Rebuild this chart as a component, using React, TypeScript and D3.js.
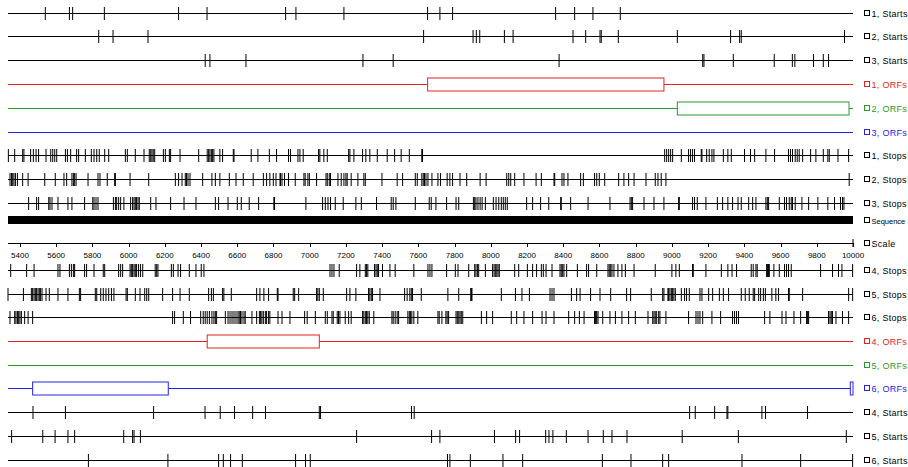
import React from "react";
import * as d3 from "d3";

// Sequence range shown
const SEQ_START = 5334;
const SEQ_END = 10000;

const scaleTicks = [5400, 5600, 5800, 6000, 6200, 6400, 6600, 6800, 7000, 7200, 7400, 7600, 7800, 8000, 8200, 8400, 8600, 8800, 9000, 9200, 9400, 9600, 9800, 10000];

const starts1 = [5540, 5673, 5691, 5866, 6276, 6433, 6867, 6924, 7189, 7651, 7719, 7789, 8358, 8463, 8564, 8715];
const starts2 = [5835, 5914, 6107, 7629, 7902, 7920, 7939, 8075, 8123, 8454, 8524, 8603, 8610, 8704, 9030, 9324, 9374, 9383, 9953];
const starts3 = [6423, 6449, 6648, 7294, 7461, 8377, 9170, 9177, 9339, 9565, 9665, 9679, 9782, 9836, 9865];
const starts4 = [5472, 5651, 6138, 6422, 6506, 6585, 6685, 6756, 7053, 7060, 7562, 7577, 9098, 9129, 9236, 9304, 9309, 9497, 9517, 9749];
const starts5 = [5354, 5526, 5594, 5665, 5702, 5973, 6022, 6030, 6065, 7259, 7673, 7719, 8020, 8137, 8159, 8303, 8321, 8343, 8417, 8537, 8621, 8669, 8752, 9057, 9367, 9963];
const starts6 = [5778, 6217, 6497, 6523, 6563, 6628, 6922, 6977, 7003, 7761, 7774, 7887, 8067, 8176, 8616, 8774, 8949, 8982, 9387, 9711, 9998];

const orfs1: [number, number][] = [[7651, 8956]];
const orfs2: [number, number][] = [[9030, 9978]];
const orfs3: [number, number][] = [];
const orfs4: [number, number][] = [[6434, 7053]];
const orfs5: [number, number][] = [];
const orfs6: [number, number][] = [[5470, 6219], [9985, 10000]];

const stops1 = [5336, 5371, 5415, 5422, 5459, 5474, 5489, 5503, 5544, 5570, 5581, 5592, 5603, 5651, 5662, 5680, 5713, 5724, 5761, 5794, 5809, 5824, 5838, 5868, 5890, 5982, 5993, 6037, 6085, 6114, 6122, 6129, 6136, 6144, 6192, 6203, 6225, 6232, 6284, 6387, 6434, 6442, 6449, 6457, 6464, 6471, 6504, 6519, 6578, 6582, 6677, 6714, 6777, 6817, 6883, 6894, 6935, 6946, 6964, 7049, 7056, 7078, 7097, 7215, 7222, 7244, 7292, 7310, 7332, 7373, 7428, 7469, 7505, 7550, 7619, 7623,
  8960, 8971, 8982, 8993, 9004, 9052, 9092, 9103, 9114, 9125, 9162, 9166, 9192, 9206, 9221, 9232, 9284, 9309, 9328, 9401, 9434, 9457, 9519, 9567, 9644, 9655, 9666, 9681, 9692, 9703, 9722, 9766, 9795, 9836, 9861, 9869, 9917, 9976];
const stops2 = [5345, 5353, 5360, 5367, 5375, 5386, 5415, 5445, 5537, 5595, 5643, 5658, 5687, 5695, 5702, 5710, 5776, 5831, 5842, 5882, 5923, 5927, 6008, 6111, 6258, 6276, 6295, 6313, 6320, 6328, 6339, 6409, 6460, 6479, 6504, 6556, 6593, 6633, 6688, 6744, 6762, 6780, 6799, 6814, 6836, 6839, 6847, 6861, 6883, 6920, 6968, 6975, 6990, 6998, 7038, 7090, 7097, 7108, 7115, 7156, 7174, 7189, 7200, 7207, 7229, 7266, 7299, 7307, 7399, 7483, 7513, 7583, 7594, 7619, 7627, 7634, 7642, 7653, 7675, 7708, 7722, 7759, 7774, 7789,
  7830, 7867, 7941, 7974, 8088, 8099, 8110, 8132, 8183, 8250, 8279, 8349, 8353, 8393, 8404, 8426, 8496, 8511, 8573, 8585, 8599, 8629, 8706, 8735, 8761, 8791, 8857, 8908, 8923, 8941, 8967, 9979];
const stops3 = [5448, 5492, 5503, 5559, 5566, 5577, 5610, 5665, 5687, 5757, 5802, 5809, 5820, 5831, 5916, 5927, 5934, 5945, 5956, 5974, 6011, 6022, 6030, 6037, 6044, 6052, 6059, 6122, 6151, 6232, 6306, 6372, 6479, 6497, 6549, 6600, 6622, 6666, 6718, 6802, 6806, 6979, 7071, 7086, 7101, 7115, 7141, 7185, 7255, 7285, 7369, 7450, 7461, 7476, 7583, 7660, 7671, 7697, 7756,
  7808, 7823, 7904, 7911, 7918, 7929, 7941, 7952, 7970, 8014, 8029, 8044, 8058, 8069, 8080, 8091, 8198, 8231, 8275, 8320, 8386, 8389, 8441, 8537, 8658, 8769, 8776, 8783, 8846, 8901, 8956, 9037, 9041, 9114, 9125, 9140, 9188, 9251, 9280, 9309, 9335, 9365, 9383, 9424, 9446, 9464, 9519, 9527, 9534, 9593, 9622, 9633, 9648, 9659, 9666, 9681, 9718, 9755, 9806, 9861, 9898, 9931, 9942, 9950];
const stops4 = [5349, 5437, 5478, 5610, 5621, 5673, 5684, 5695, 5702, 5757, 5768, 5809, 5860, 5868, 5945, 5956, 5967, 6008, 6015, 6022, 6030, 6037, 6044, 6055, 6066, 6078, 6147, 6155, 6162, 6236, 6247, 6273, 6287, 6335, 6372, 6401, 6416, 7112, 7123, 7134, 7163, 7259, 7277, 7307, 7314, 7321, 7358, 7366, 7373, 7380, 7402, 7443, 7472, 7575, 7653, 7664, 7675, 7756,
  7804, 7819, 7878, 7911, 7918, 7926, 7933, 7970, 8010, 8018, 8025, 8033, 8040, 8047, 8132, 8154, 8202, 8231, 8253, 8279, 8290, 8305, 8338, 8382, 8389, 8397, 8404, 8419, 8478, 8529, 8540, 8585, 8647, 8654, 8662, 8669, 8680, 8702, 8724, 8743, 8791, 8908, 9000, 9022, 9041, 9114, 9118, 9188, 9273, 9309, 9332, 9357, 9438, 9449, 9464, 9471, 9523, 9527, 9530, 9534, 9538, 9563, 9593, 9622, 9633, 9644, 9659, 9821, 9887, 9920, 9939, 9998];
const stops5 = [5334, 5419, 5463, 5470, 5478, 5485, 5492, 5500, 5507, 5514, 5522, 5544, 5562, 5610, 5665, 5728, 5735, 5816, 5824, 5846, 5860, 5875, 5890, 5905, 5919, 5986, 5993, 6037, 6063, 6089, 6100, 6111, 6188, 6243, 6284, 6335, 6442, 6457, 6468, 6519, 6526, 6567, 6707, 6725, 6747, 6773, 6821, 6825, 6909, 6917, 6939, 7038, 7045, 7053, 7075, 7204, 7222, 7255, 7325, 7332, 7340, 7347, 7388, 7524, 7538, 7553, 7561, 7568, 7616, 7763,
  7823, 7889, 7893, 7896, 8058, 8136, 8172, 8213, 8327, 8338, 8349, 8445, 8474, 8493, 8551, 8603, 8662, 8750, 8772, 8886, 8949, 8956, 8978, 8982, 8989, 8997, 9004, 9011, 9019, 9052, 9070, 9081, 9096, 9155, 9166, 9203, 9225, 9262, 9284, 9313, 9383, 9405, 9427, 9449, 9457, 9479, 9490, 9505, 9516, 9552, 9574, 9589, 9644, 9648, 9722, 9976, 9998];
const stops6 = [5345, 5371, 5378, 5386, 5393, 5400, 5408, 5426, 5445, 5470, 6243, 6254, 6302, 6342, 6398, 6412, 6423, 6434, 6446, 6460, 6471, 6479, 6486, 6534, 6549, 6560, 6571, 6582, 6593, 6604, 6611, 6618, 6626, 6637, 6644, 6681, 6707, 6722, 6729, 6736, 6744, 6755, 6762, 6773, 6780, 6825, 6847, 6891, 6972, 6986, 7031, 7086, 7097, 7123, 7130, 7152, 7159, 7167, 7196, 7215, 7229, 7292, 7299, 7307, 7314, 7321, 7329, 7354, 7454, 7461, 7472, 7483, 7491, 7542, 7550, 7557, 7564, 7575, 7597, 7708, 7715, 7730, 7752, 7759, 7767,
  7808, 7815, 7823, 7830, 7837, 7845, 7948, 7977, 8010, 8113, 8143, 8183, 8231, 8283, 8305, 8349, 8430, 8463, 8489, 8515, 8573, 8577, 8581, 8585, 8592, 8618, 8658, 8688, 8724, 8761, 8798, 8868, 8894, 8901, 8908, 8916, 8927, 8934, 8967, 9092, 9133, 9144, 9155, 9170, 9221, 9269, 9335, 9346, 9357, 9368, 9512, 9541, 9608, 9630, 9674, 9711, 9744, 9747, 9751, 9755, 9865, 9873, 9880, 9887, 9906, 9942, 9976];

const RED = "#e02424";
const GREEN = "#2c9a2c";
const BLUE = "#2424e0";

type Track = { label: string; kind: "marks" | "orfs" | "seq" | "scale"; y: number; color: string; marks?: number[]; orfs?: [number, number][] };

const tracks: Track[] = [
  { label: "1, Starts", kind: "marks", y: 13, color: "#000", marks: starts1 },
  { label: "2, Starts", kind: "marks", y: 36, color: "#000", marks: starts2 },
  { label: "3, Starts", kind: "marks", y: 60, color: "#000", marks: starts3 },
  { label: "1, ORFs", kind: "orfs", y: 84, color: RED, orfs: orfs1 },
  { label: "2, ORFs", kind: "orfs", y: 108, color: GREEN, orfs: orfs2 },
  { label: "3, ORFs", kind: "orfs", y: 132, color: BLUE, orfs: orfs3 },
  { label: "1, Stops", kind: "marks", y: 155, color: "#000", marks: stops1 },
  { label: "2, Stops", kind: "marks", y: 179, color: "#000", marks: stops2 },
  { label: "3, Stops", kind: "marks", y: 203, color: "#000", marks: stops3 },
  { label: "Sequence", kind: "seq", y: 220, color: "#000" },
  { label: "Scale", kind: "scale", y: 243, color: "#000" },
  { label: "4, Stops", kind: "marks", y: 270, color: "#000", marks: stops4 },
  { label: "5, Stops", kind: "marks", y: 294, color: "#000", marks: stops5 },
  { label: "6, Stops", kind: "marks", y: 317, color: "#000", marks: stops6 },
  { label: "4, ORFs", kind: "orfs", y: 341, color: RED, orfs: orfs4 },
  { label: "5, ORFs", kind: "orfs", y: 365, color: GREEN, orfs: orfs5 },
  { label: "6, ORFs", kind: "orfs", y: 388, color: BLUE, orfs: orfs6 },
  { label: "4, Starts", kind: "marks", y: 412, color: "#000", marks: starts4 },
  { label: "5, Starts", kind: "marks", y: 436, color: "#000", marks: starts5 },
  { label: "6, Starts", kind: "marks", y: 460, color: "#000", marks: starts6 },
];

const x = d3.scaleLinear().domain([SEQ_START, SEQ_END]).range([8, 853]);
const FONT = "'Liberation Sans', Arial, sans-serif";

function TrackView({ t }: { t: Track }) {
  const x0 = x(SEQ_START);
  const x1 = x(SEQ_END);
  const ly = t.y + 0.5;
  const longLabel = t.label === "Sequence";
  return (
    <g>
      {t.kind === "marks" && (
        <g>
          <line x1={x0} x2={x1} y1={ly} y2={ly} stroke="#000" strokeWidth={1} />
          {t.marks!.map((v, i) => (
            <line key={i} x1={x(v)} x2={x(v)} y1={t.y - 6} y2={t.y + 7} stroke="#000" strokeWidth={1} />
          ))}
        </g>
      )}
      {t.kind === "orfs" && (
        <g>
          <line x1={x0} x2={x1} y1={ly} y2={ly} stroke={t.color} strokeWidth={1} />
          {t.orfs!.map(([a, b], i) => (
            <rect key={i} x={x(a)} y={t.y - 6} width={Math.max(1.5, x(b) - x(a))} height={13} fill="#fff" stroke={t.color} strokeWidth={1} />
          ))}
        </g>
      )}
      {t.kind === "seq" && <rect x={x0} y={t.y - 4} width={x1 - x0} height={8} fill="#000" />}
      {t.kind === "scale" && (
        <g>
          <line x1={x0} x2={x1} y1={ly} y2={ly} stroke="#000" strokeWidth={1} />
          {scaleTicks.map((v) => (
            <g key={v}>
              <line x1={Math.round(x(v)) + 0.5} x2={Math.round(x(v)) + 0.5} y1={t.y} y2={t.y + 4} stroke="#000" strokeWidth={1} />
              <text x={x(v)} y={t.y + 15} textAnchor="middle" fontFamily={FONT} fontSize={8} fill="#000">
                {v}
              </text>
            </g>
          ))}
          <line x1={x1} x2={x1} y1={t.y - 4} y2={t.y + 4} stroke="#000" strokeWidth={1} />
        </g>
      )}
      <rect x={864.5} y={t.y - 2.5} width={5} height={5} fill="#fff" stroke={t.color} strokeWidth={1} />
      <text
        x={871.5}
        y={t.y + 3.5}
        fontFamily={FONT}
        fontSize={longLabel ? 7.5 : 9}
        letterSpacing={longLabel ? 0 : 0.3}
        fill={t.color}
      >
        {t.label}
      </text>
    </g>
  );
}

export default function App() {
  return (
    <svg width={908} height={467} style={{ position: "absolute", left: 0, top: 0, background: "#fff" }}>
      <rect x={0} y={0} width={908} height={467} fill="#fff" />
      {tracks.map((t) => (
        <TrackView key={t.label} t={t} />
      ))}
    </svg>
  );
}
